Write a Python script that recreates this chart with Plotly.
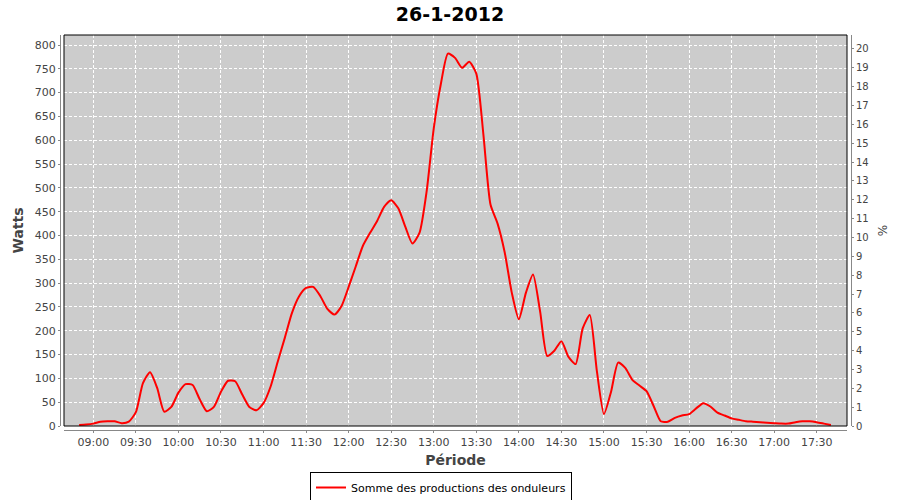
import plotly.graph_objects as go

times = ["08:50","08:55","09:00","09:05","09:10","09:15","09:20","09:25","09:30","09:35",
         "09:40","09:45","09:50","09:55","10:00","10:05","10:10","10:15","10:20","10:25",
         "10:30","10:35","10:40","10:45","10:50","10:55","11:00","11:05","11:10","11:15",
         "11:20","11:25","11:30","11:35","11:40","11:45","11:50","11:55","12:00","12:05",
         "12:10","12:15","12:20","12:25","12:30","12:35","12:40","12:45","12:50","12:55",
         "13:00","13:05","13:10","13:15","13:20","13:25","13:30","13:35","13:40","13:45",
         "13:50","13:55","14:00","14:05","14:10","14:15","14:20","14:25","14:30","14:35",
         "14:40","14:45","14:50","14:55","15:00","15:05","15:10","15:15","15:20","15:25",
         "15:30","15:35","15:40","15:45","15:50","15:55","16:00","16:05","16:10","16:15",
         "16:20","16:25","16:30","16:35","16:40","16:45","16:50","16:55","17:00","17:05",
         "17:10","17:15","17:20","17:25","17:30","17:35","17:40"]

watts = [2, 3, 5, 9, 10, 10, 6, 9, 29, 90,
         113, 80, 30, 40, 70, 88, 86, 56, 31, 40,
         72, 95, 94, 66, 40, 33, 48, 83, 135, 185,
         237, 272, 290, 292, 273, 246, 234, 252, 292, 335,
         378, 405, 430, 460, 474, 457, 418, 383, 406, 493,
         625, 718, 782, 773, 752, 765, 740, 612, 465, 425,
         365, 280, 224, 280, 318, 240, 147, 158, 178, 145,
         130, 205, 233, 115, 25, 72, 133, 122, 97, 85,
         73, 42, 10, 9, 17, 22, 25, 37, 48, 41,
         28, 22, 16, 13, 10, 9, 8, 7, 6, 5,
         5, 8, 10, 10, 8, 5, 2]

day = "2012-01-26"
x_vals = [f"{day} {t}" for t in times]

series_name = "Somme des productions des onduleurs"
title_text = "26-1-2012"

W, H = 900, 500
left, right, top, bottom = 60, 851, 35, 430
pw, ph = right - left, bottom - top
off = 4

fig = go.Figure()
fig.add_trace(go.Scatter(x=x_vals, y=watts, mode="lines", name=series_name,
                         line=dict(color="#ff0000", width=2, shape="spline", smoothing=0.6)))
fig.add_trace(go.Scatter(x=[], y=[], yaxis="y2", showlegend=False, hoverinfo="skip"))

tickfont = dict(family="DejaVu Sans", size=11, color="#444444")
titlefont = dict(family="DejaVu Sans", size=14, color="#444444", weight="bold")

fig.update_layout(
    width=W, height=H,
    margin=dict(l=left, r=W - right, t=top, b=H - bottom, pad=0, autoexpand=False),
    paper_bgcolor="white", plot_bgcolor="#cccccc",
    title=dict(text=title_text, x=0.5, xanchor="center", y=1 - 14 / H, yanchor="middle",
               yref="container", font=dict(family="DejaVu Sans", size=19, color="black", weight="bold")),
    xaxis=dict(type="date", domain=[off / pw, (pw - off) / pw], anchor="free", position=0,
               range=[f"{day} 08:39:20", f"{day} 17:51:20"], automargin=False,
               tick0=f"{day} 09:00", dtick=1800000, tickformat="%H:%M",
               showline=True, linecolor="#888888", linewidth=1,
               ticks="outside", ticklen=2, tickcolor="#888888",
               showgrid=True, gridcolor="white", griddash="3px,2px", gridwidth=1,
               zeroline=False, tickfont=tickfont,
               title=dict(text="Période", font=titlefont, standoff=6)),
    yaxis=dict(domain=[off / ph, 1], anchor="free", position=0, automargin=False,
               range=[0, 821], tick0=0, dtick=50,
               showline=True, linecolor="#888888", linewidth=1,
               ticks="outside", ticklen=2, tickcolor="#888888",
               showgrid=True, gridcolor="white", griddash="3px,2px", gridwidth=1,
               zeroline=False, tickfont=tickfont,
               title=dict(text="Watts", font=titlefont, standoff=6)),
    yaxis2=dict(domain=[off / ph, 1], anchor="free", position=1, overlaying="y", side="right",
                range=[0, 20.74], tick0=0, dtick=1, automargin=False,
                showline=True, linecolor="#888888", linewidth=1,
                ticks="outside", ticklen=2, tickcolor="#888888",
                showgrid=False, zeroline=False, tickfont=dict(family="DejaVu Sans", size=10, color="#444444"),
                title=dict(text="%", font=dict(family="DejaVu Sans", size=12, color="#444444"), standoff=10)),
    legend=dict(orientation="h", x=(441 - left) / pw, xanchor="center",
                y=-(472 - bottom) / ph, yanchor="top",
                bordercolor="black", borderwidth=1, bgcolor="white",
                font=dict(family="DejaVu Sans", size=11, color="black"),
                itemwidth=30),
    showlegend=True,
)

fig.add_shape(type="rect", xref="paper", yref="paper",
              x0=off / pw, x1=(pw - off) / pw, y0=off / ph, y1=1,
              line=dict(color="black", width=1), layer="above")

fig.write_html("out.html", config={"displayModeBar": False},
               post_script="document.body.style.margin='0px';document.body.style.overflow='hidden';")
